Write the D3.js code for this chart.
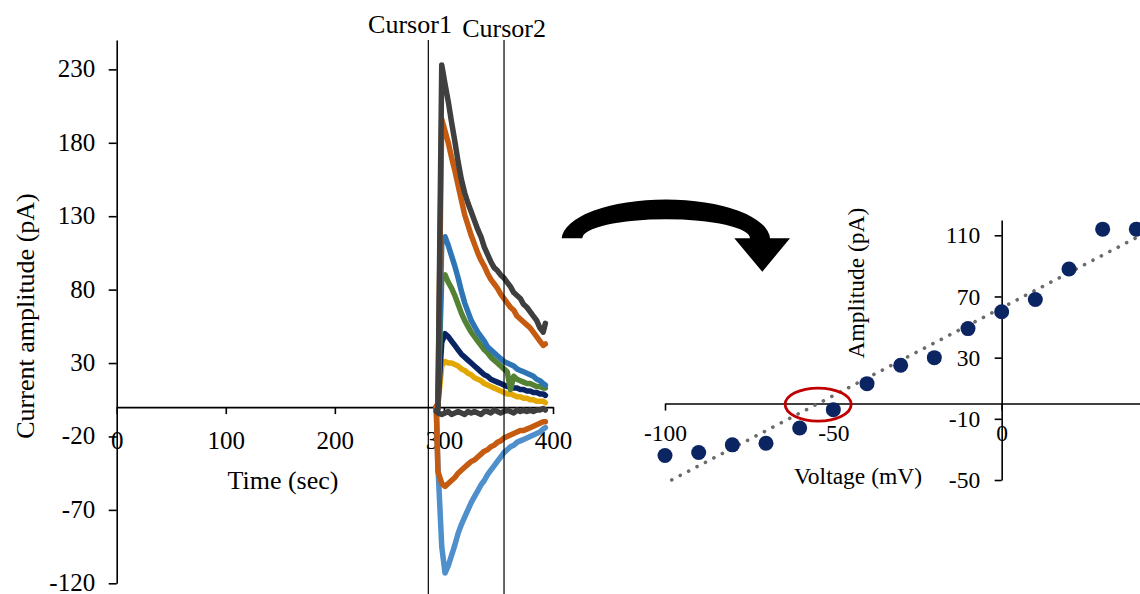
<!DOCTYPE html>
<html><head><meta charset="utf-8">
<script src="https://cdn.jsdelivr.net/npm/d3@7"></script>
<style>
html,body{margin:0;padding:0;background:#fff;}
svg{display:block;font-family:"Liberation Serif","Times New Roman",serif;}
</style></head>
<body><svg id="c" width="1140" height="594"></svg>
<script>
// ---------- Left chart data ----------
const time = [293,294.5,298,301,304,307,310,313,316,319,322,325,328,331,334,337,340,343,346,349,352,355,358,361,364,367,370,373,376,379,382,385,388,391,393];
const grayTop   = [-3,-2,233,220,208,194,181,167,155,146,139,133,127,121,116,109,104,99,95,93,90,88,85,82,78,76,74,70,68,65,62,59,54,51,57];
const orangeTop = [0,3,196,188,180,170,161,151,141,131,124,117,111,105,100,96,91,87,84,81,77,74,71,68,66,62,60,58,56,54,51,48,45,42,43];
const blueTop   = [0,2,112,116,110,103,96,88,79,71,65,59,55,51,48,45,41,39,37,35,33,31,30,29,28,26,25,24,23,22,21,19,18,16,15];
const greenTop  = [0,2,88,90,85,81,76,70,64,59,55,51,48,45,42,39,37,34,32,30,28,26,24,12,21,19,18,17,16,16,15,14,14,13,13];
const navyTop   = [0,1,44,50,48,45,42,39,36,34,32,30,28,26,24,22,21,19,18,17,16,15,14,14,13,13,12,12,11,11,10,10,9,9,8];
const yellowTop = [0,1,28,31,30,30,29,28,26,25,23,22,20,19,18,16,15,14,13,12,11,10,9,9,8,7,7,6,6,5,5,4,4,4,3];
const grayBase  = [-2,-4,-5,-4,-3,-5,-4,-3,-4,-5,-3,-4,-3,-4,-5,-3,-3,-4,-2,-3,-4,-3,-2,-3,-4,-2,-3,-2,-3,-2,-3,-2,-2,-1,-2];
const orangeNeg = [0,-44,-52,-54,-52,-50,-48,-45,-43,-41,-39,-37,-36,-34,-32,-30,-29,-27,-26,-24,-23,-21,-20,-19,-18,-17,-16,-16,-15,-14,-13,-12,-11,-10,-10];
const lightBlueNeg = [0,-40,-95,-113,-108,-101,-94,-86,-80,-75,-70,-65,-61,-57,-53,-50,-46,-43,-40,-37,-34,-31,-29,-27,-26,-24,-23,-22,-21,-20,-19,-18,-17,-15,-14];
const xTicksL = [0,100,200,300,400];
const yTicksL = [-120,-70,-20,30,80,130,180,230];
const cursors = [{name:"Cursor1", t:285.7}, {name:"Cursor2", t:355.1}];

// ---------- Right chart data ----------
const voltage   = [-100,-90,-80,-70,-60,-50,-40,-30,-20,-10,0,10,20,30,40];
const amplitude = [-34,-32,-27,-26,-16,-4,13,25,30,49,60,68,88,114,114];
const xTicksR = [-100,-50,0];
const yTicksR = [-50,-10,30,70,110];

const svg = d3.select("#c");
const FL = 25, FR = 23.5;
const fmt = d => String(d);

// ---------- Left chart ----------
const xL = d3.scaleLinear().domain([0,400]).range([116.7,553]);
const yL = d3.scaleLinear().domain([-120,250]).range([583.3,40]);

const series = [
  {v: lightBlueNeg, c:"#4F8FCC"},
  {v: orangeNeg, c:"#C55A11"},
  {v: yellowTop, c:"#E2A700"},
  {v: navyTop, c:"#0A2463"},
  {v: greenTop, c:"#548235"},
  {v: blueTop, c:"#2E75B6"},
  {v: orangeTop, c:"#C55A11"},
  {v: grayTop, c:"#3F3F3F"},
  {v: grayBase, c:"#3F3F3F"}
];
const line = d3.line().x((d,i)=>xL(time[i])).y(d=>yL(d));

// axes
const gyL = svg.append("g").attr("transform",`translate(${xL(0)},0)`)
  .call(d3.axisLeft(yL).tickValues(yTicksL).tickSize(8).tickSizeOuter(0).tickPadding(13.5).tickFormat(fmt));
const gxL = svg.append("g").attr("transform",`translate(0,${yL(0)})`)
  .call(d3.axisBottom(xL).tickValues(xTicksL).tickSize(7).tickSizeOuter(0).tickFormat(fmt));
gxL.selectAll("text").attr("y",42).attr("dy",null);
gyL.selectAll("text").attr("dy","0.3em");
[gyL,gxL].forEach(g=>{
  g.select(".domain").attr("stroke","#000").attr("stroke-width",1.6);
  g.selectAll(".tick line").attr("stroke","#000").attr("stroke-width",1.6);
  g.selectAll("text").attr("font-size",FL).attr("fill","#000").attr("font-family","Liberation Serif");
});

// traces
svg.append("g").selectAll("path").data(series).join("path")
  .attr("d",d=>line(d.v)).attr("fill","none").attr("stroke",d=>d.c)
  .attr("stroke-width",5.5).attr("stroke-linejoin","round").attr("stroke-linecap","round");

// cursors
svg.append("g").selectAll("line").data(cursors).join("line")
  .attr("x1",d=>xL(d.t)).attr("x2",d=>xL(d.t)).attr("y1",40).attr("y2",594)
  .attr("stroke","#000").attr("stroke-width",1.2);
svg.append("text").attr("x",410).attr("y",33).attr("text-anchor","middle").attr("font-size",26).text(cursors[0].name);
svg.append("text").attr("x",xL(cursors[1].t)).attr("y",37).attr("text-anchor","middle").attr("font-size",26).text(cursors[1].name);

svg.append("text").attr("x",283).attr("y",489).attr("text-anchor","middle").attr("font-size",26).text("Time (sec)");
svg.append("text").attr("transform","translate(34,316) rotate(-90)").attr("text-anchor","middle").attr("font-size",26).text("Current amplitude (pA)");

// ---------- Arrow ----------
svg.append("path")
  .attr("d","M561.7,238.3 A104.2,40 0 0 1 770,238.3 L790,238.3 L762.3,271.7 L734.3,238.3 L750,238.3 A83.8,19 0 0 0 582.3,238.3 Z")
  .attr("fill","#000");

// ---------- Right chart ----------
const xR = d3.scaleLinear().domain([-100,41]).range([665,1139.7]);
const yR = d3.scaleLinear().domain([-50,120]).range([480,220]);

const gxR = svg.append("g").attr("transform",`translate(0,${yR(0)})`)
  .call(d3.axisBottom(xR).tickValues(xTicksR).tickSize(7).tickSizeOuter(0).tickFormat(fmt));
gxR.selectAll("text").attr("y",37).attr("dy",null);
const gyR = svg.append("g").attr("transform",`translate(${xR(0)},0)`)
  .call(d3.axisLeft(yR).tickValues(yTicksR).tickSize(7).tickSizeOuter(0).tickPadding(14.5).tickFormat(fmt));
[gyR,gxR].forEach(g=>{
  g.select(".domain").attr("stroke","#000").attr("stroke-width",1.6);
  g.selectAll(".tick line").attr("stroke","#000").attr("stroke-width",1.6);
  g.selectAll("text").attr("font-size",FR).attr("fill","#000").attr("font-family","Liberation Serif");
});

// linear trendline (least squares)
const mx = d3.mean(voltage), my = d3.mean(amplitude);
const slope = d3.sum(voltage.map((v,i)=>(v-mx)*(amplitude[i]-my))) / d3.sum(voltage.map(v=>(v-mx)*(v-mx)));
const icpt = my - slope*mx;
const trendX = [-98, 41];
svg.append("path")
  .attr("d", d3.line().x(d=>xR(d)).y(d=>yR(slope*d+icpt))(trendX))
  .attr("fill","none").attr("stroke","#6B6B6B").attr("stroke-width",3.6)
  .attr("stroke-dasharray","0.1 9.4").attr("stroke-linecap","round");

// points
svg.append("g").selectAll("circle").data(voltage).join("circle")
  .attr("cx",d=>xR(d)).attr("cy",(d,i)=>yR(amplitude[i])).attr("r",7.5).attr("fill","#0B2462");

// reversal potential ellipse
const vRev = -icpt/slope;
svg.append("ellipse").attr("cx",xR(vRev)).attr("cy",yR(0)+1).attr("rx",33).attr("ry",16.5)
  .attr("fill","none").attr("stroke","#C00000").attr("stroke-width",2.8);

svg.append("text").attr("x",858).attr("y",484).attr("text-anchor","middle").attr("font-size",FR).text("Voltage (mV)");
svg.append("text").attr("transform","translate(864,283) rotate(-90)").attr("text-anchor","middle").attr("font-size",FR).text("Amplitude (pA)");
</script></body></html>
